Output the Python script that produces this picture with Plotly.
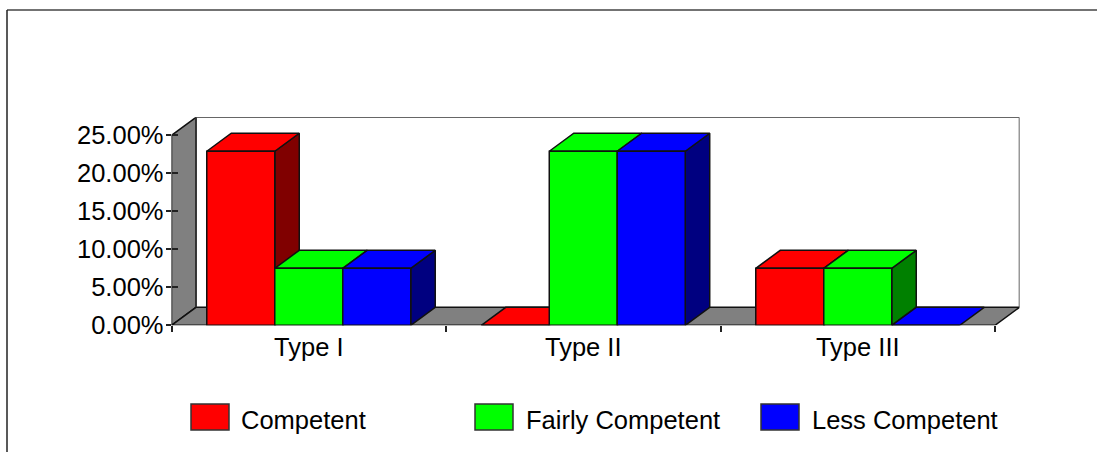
import plotly.graph_objects as go

# ---- data ----
categories = ["Type I", "Type II", "Type III"]
competent = [22.9, 0.0, 7.5]
fairly_competent = [7.5, 22.9, 7.5]
less_competent = [7.5, 22.9, 0.0]
y_ticks = [0, 5, 10, 15, 20, 25]
y_tick_labels = ["0.00%", "5.00%", "10.00%", "15.00%", "20.00%", "25.00%"]
series_names = ["Competent", "Fairly Competent", "Less Competent"]

# ---- styling and geometry ----
W, H = 1097, 452
FRONT_LEFT, FRONT_RIGHT = 171.5, 995.0
BASE_Y, TOP_Y = 325.3, 117.3
DEPTH_X_PX, DEPTH_Y_PX = 24.5, 18.0
PX_PER_PCT = 7.6
FONT = "Liberation Sans, Arial, sans-serif"
FONT_SIZE = 25.5
TEXT = "#000000"
FRONT = ["#ff0000", "#00ff00", "#0000ff"]
SIDE = ["#800000", "#008000", "#000080"]
GREY = "#808080"
EDGE = "#111111"
EDGE_W = 1.5
BAR_GROUP = 0.743

unit_px = (FRONT_RIGHT - FRONT_LEFT) / len(categories)
dx = DEPTH_X_PX / unit_px
dy = DEPTH_Y_PX / PX_PER_PCT
x_max = len(categories) + dx
y_max = (BASE_Y - TOP_Y) / PX_PER_PCT
centers = [i + 0.5 for i in range(len(categories))]
series = [competent, fairly_competent, less_competent]
bar_w = BAR_GROUP / len(series)

fig = go.Figure()


def face(xs, ys, fill, line=EDGE):
    fig.add_trace(go.Scatter(
        x=xs + xs[:1], y=ys + ys[:1], mode="lines", fill="toself", fillcolor=fill,
        line=dict(color=line, width=EDGE_W), hoverinfo="skip", showlegend=False,
        cliponaxis=False, xaxis="x", yaxis="y"))


# side wall and floor
face([0, 0, dx, dx], [0, y_ticks[-1], y_ticks[-1] + dy, dy], GREY)
face([0, len(categories), x_max, dx], [0, 0, dy, dy], GREY)
# back wall outline
fig.add_trace(go.Scatter(
    x=[dx, dx, x_max, x_max], y=[dy, y_max, y_max, dy], mode="lines",
    line=dict(color="#333333", width=EDGE_W), hoverinfo="skip", showlegend=False,
    cliponaxis=False, xaxis="x", yaxis="y"))

# depth faces, painted left to right
for c_i, c in enumerate(centers):
    for s_i, vals in enumerate(series):
        v = vals[c_i]
        left = c - BAR_GROUP / 2 + s_i * bar_w
        right = left + bar_w
        if v > 0:
            face([right, right + dx, right + dx, right], [0, dy, v + dy, v], SIDE[s_i])
        face([left, right, right + dx, left + dx], [v, v, v + dy, v + dy], FRONT[s_i])

# front faces on an overlaying pair of axes sharing the same scale
for s_i, vals in enumerate(series):
    fig.add_trace(go.Bar(
        x=centers, y=vals, name=series_names[s_i],
        marker=dict(color=FRONT[s_i], line=dict(color=EDGE, width=EDGE_W)),
        showlegend=False, xaxis="x2", yaxis="y2", hovertemplate="%{y:.2f}%<extra>" + series_names[s_i] + "</extra>"))

x_dom = [FRONT_LEFT / W, (FRONT_RIGHT + DEPTH_X_PX) / W]
y_dom = [1 - BASE_Y / H, 1 - TOP_Y / H]

# legend drawn as swatches + real text
legend_x = [191, 475, 761]
legend_text_x = [239, 524, 810]
shapes = [
    dict(type="line", xref="paper", yref="paper", x0=7 / W, x1=1, y0=1 - 10 / H, y1=1 - 10 / H,
         line=dict(color="#444444", width=1.5)),
    dict(type="line", xref="paper", yref="paper", x0=7 / W, x1=7 / W, y0=1 - 10 / H, y1=0,
         line=dict(color="#222222", width=1.5)),
]
annotations = []
for i, name in enumerate(series_names):
    shapes.append(dict(type="rect", xref="paper", yref="paper", x0=legend_x[i] / W, x1=(legend_x[i] + 38) / W,
                       y0=1 - 430 / H, y1=1 - 404 / H, fillcolor=FRONT[i], line=dict(color="#333333", width=1.5)))
    annotations.append(dict(xref="paper", yref="paper", x=legend_text_x[i] / W, y=1 - 420 / H, text=name,
                            showarrow=False, xanchor="left", yanchor="middle",
                            font=dict(family=FONT, size=FONT_SIZE, color=TEXT)))

fig.update_layout(
    width=W, height=H, autosize=False, margin=dict(l=0, r=0, t=0, b=0),
    paper_bgcolor="white", plot_bgcolor="white", showlegend=False,
    barmode="group", bargap=1 - BAR_GROUP, bargroupgap=0, shapes=shapes, annotations=annotations,
    xaxis=dict(domain=x_dom, range=[0, x_max], showgrid=False, zeroline=False, showline=False, automargin=False,
               tickmode="array", tickvals=centers, ticktext=categories, ticks="", ticklabelstandoff=4,
               tickfont=dict(family=FONT, size=FONT_SIZE, color=TEXT),
               minor=dict(tickmode="array", tickvals=[0, 1, 2, 3], ticks="outside", ticklen=6,
                          tickwidth=1.5, tickcolor="#222222", showgrid=False)),
    yaxis=dict(domain=y_dom, range=[0, y_max], showgrid=False, zeroline=False, showline=False, automargin=False,
               tickmode="array", tickvals=y_ticks, ticktext=y_tick_labels, ticks="inside", ticklen=6,
               tickwidth=1.5, tickcolor="#222222", ticklabelstandoff=7,
               tickfont=dict(family=FONT, size=FONT_SIZE, color=TEXT)),
    xaxis2=dict(domain=x_dom, range=[0, x_max], overlaying="x", visible=False, anchor="y2", automargin=False),
    yaxis2=dict(domain=y_dom, range=[0, y_max], overlaying="y", anchor="x2", showgrid=False, zeroline=False,
                showline=False, tickmode="array", tickvals=y_ticks, ticks="outside", ticklen=5, tickwidth=1.5,
                tickcolor="#222222", showticklabels=False, automargin=False),
)

fig.write_html("out.html", config={"displayModeBar": False},
               post_script="document.body.style.margin='0';document.documentElement.style.overflow='hidden';")
